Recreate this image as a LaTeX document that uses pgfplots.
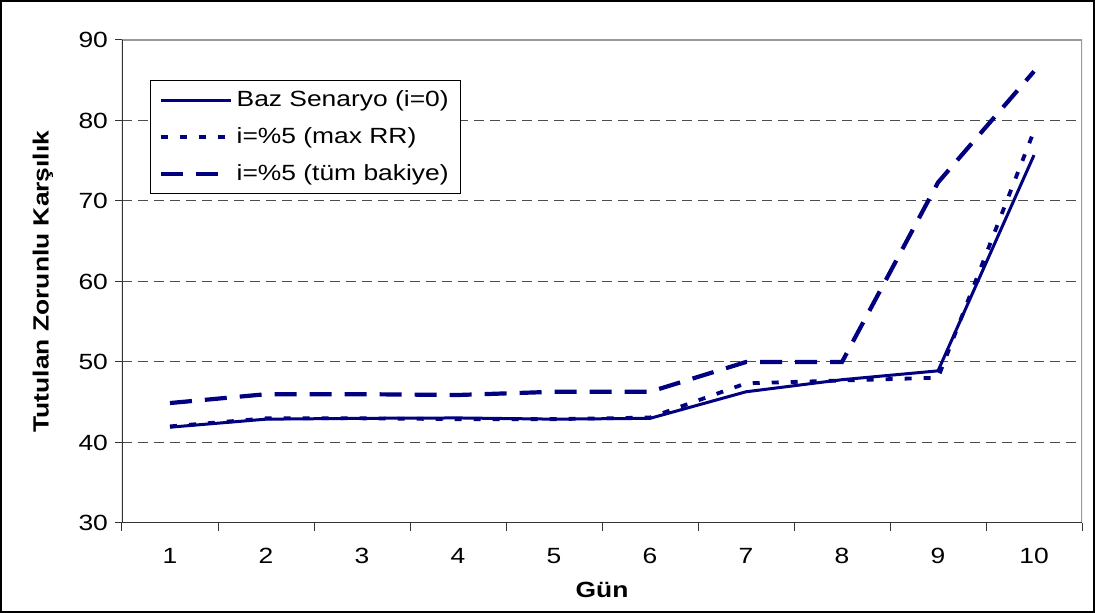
\documentclass[border=0pt]{standalone}
\usepackage{fontspec}
\setmainfont{Liberation Sans}[FakeStretch=1.2]
\usepackage{pgfplots}
\pgfplotsset{compat=1.18}
\definecolor{navy}{RGB}{0,0,128}

\begin{document}
\begin{tikzpicture}
\begin{axis}[
  scale only axis,
  width=480pt, height=241.5pt,
  xmin=0.5, xmax=10.5, ymin=30, ymax=90,
  xtick={1,...,10},
  minor xtick={0.5,1.5,...,10.5},
  ytick={30,40,...,90},
  xtick pos=bottom, ytick pos=left,
  tick align=outside,
  major x tick style={draw=none},
  minor tick length=4pt, major tick length=3.5pt,
  tick style={black!80, line width=0.5pt},
  ymajorgrids,
  grid style={black!70, line width=0.5pt, dash pattern=on 5pt off 3pt},
  axis line style={draw=none},
  /pgf/number format/assume math mode=true,
  ticklabel style={font=\fontsize{11}{13}\selectfont},
  xticklabel style={anchor=center, yshift=-13pt},
  xlabel={\textbf{Gün}},
  ylabel={\textbf{Tutulan Zorunlu Karşılık}},
  label style={font=\fontsize{11}{13}\selectfont},
  xlabel style={at={(axis description cs:0.5,-0.1387)}, anchor=center},
  ylabel style={at={(axis description cs:-0.0823,0.5)}, anchor=center},
  legend style={
    at={(rel axis cs:0.029,0.917)}, anchor=north west,
    draw=black, line width=0.6pt, fill=white,
    font=\fontsize{11}{13}\selectfont,
    inner xsep=4pt, inner ysep=3pt,
    row sep=5pt,
    legend cell align=left,
  },
  legend image code/.code={\draw[#1] (0pt,0pt) -- (35pt,0pt);},
]
% Base scenario
\addplot[navy, line width=1.5pt] coordinates {
  (1,41.9) (2,42.9) (3,43.0) (4,43.05) (5,42.9) (6,43.0)
  (7,46.3) (8,47.8) (9,48.9) (10,75.7)};
\addlegendentry{Baz Senaryo (i=0)}
% i = 5% (max RR)
\addplot[navy, line width=1.9pt, dash pattern=on 3.5pt off 6pt] coordinates {
  (1,42.0) (2,43.0) (3,43.0) (4,42.9) (5,42.9) (6,43.1)
  (7,47.35) (8,47.7) (9,48.05) (10,78.7)};
\addlegendentry{i=\%5 (max RR)}
% i = 5% (whole balance)
\addplot[navy, line width=2.1pt, dash pattern=on 11pt off 6.5pt] coordinates {
  (1,44.9) (2,46.0) (3,46.0) (4,45.9) (5,46.3) (6,46.3)
  (7,50.0) (8,50.0) (9,72.3) (10,86.1)};
\addlegendentry{i=\%5 (tüm bakiye)}
% plot area border: grey top/right, dark left/bottom
\draw[gray!80, line width=0.8pt] (rel axis cs:0,1) -- (rel axis cs:1,1) -- (rel axis cs:1,0);
\draw[black!80, line width=0.8pt] (rel axis cs:0,1) -- (rel axis cs:0,0) -- (rel axis cs:1,0);
\end{axis}
% outer chart frame
\draw[black, line width=0.8pt] (-60.6pt,-44.6pt) rectangle (486.1pt,261.1pt);
\end{tikzpicture}
\end{document}
